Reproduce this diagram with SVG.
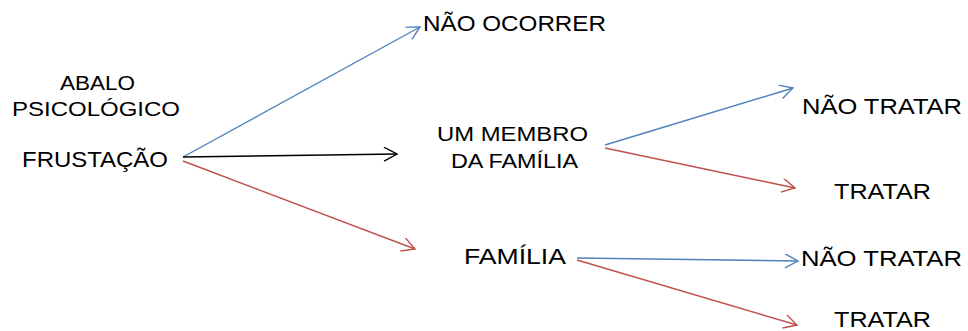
<svg xmlns="http://www.w3.org/2000/svg" width="968" height="331" viewBox="0 0 968 331">
<style>
.t{font-family:"Liberation Sans",Arial,sans-serif;font-size:22.5px;fill:#000}
.s{font-family:"Liberation Sans",Arial,sans-serif;font-size:19.5px;fill:#000}
.c{fill:none;stroke-width:1.4}
</style>
<defs>
<marker id="ab" markerUnits="userSpaceOnUse" markerWidth="20" markerHeight="20" refX="14" refY="7" orient="auto"><path d="M1,0 L14,7 L1,14" fill="none" stroke="#4f81bd" stroke-width="1.4"/></marker>
<marker id="ar" markerUnits="userSpaceOnUse" markerWidth="20" markerHeight="20" refX="14" refY="7" orient="auto"><path d="M1,0 L14,7 L1,14" fill="none" stroke="#c0504d" stroke-width="1.4"/></marker>
<marker id="ak" markerUnits="userSpaceOnUse" markerWidth="20" markerHeight="20" refX="14" refY="7" orient="auto"><path d="M1,0 L14,7 L1,14" fill="none" stroke="#000" stroke-width="1.4"/></marker>
</defs>
<rect width="968" height="331" fill="#fff"/>
<g id="connectors">
<line class="c" x1="183" y1="157" x2="420" y2="27" stroke="#4f81bd" marker-end="url(#ab)"/>
<line class="c" x1="183" y1="157" x2="397" y2="154" stroke="#000" marker-end="url(#ak)"/>
<line class="c" x1="183" y1="161" x2="415" y2="249" stroke="#c0504d" marker-end="url(#ar)"/>
<line class="c" x1="605" y1="145" x2="793" y2="88" stroke="#4f81bd" marker-end="url(#ab)"/>
<line class="c" x1="605" y1="148" x2="795" y2="188" stroke="#c0504d" marker-end="url(#ar)"/>
<line class="c" x1="577" y1="258" x2="798" y2="261" stroke="#4f81bd" marker-end="url(#ab)"/>
<line class="c" x1="577" y1="260" x2="797" y2="325" stroke="#c0504d" marker-end="url(#ar)"/>
</g>
<g id="abalo"><text class="s" x="60" y="90" textLength="75" lengthAdjust="spacingAndGlyphs">ABALO</text><text class="s" x="12" y="116" textLength="168" lengthAdjust="spacingAndGlyphs">PSICOLÓGICO</text></g>
<g id="frustacao"><text class="t" x="22" y="167" textLength="146" lengthAdjust="spacingAndGlyphs">FRUSTAÇÃO</text></g>
<g id="nao-ocorrer"><text class="t" x="423" y="31" textLength="183" lengthAdjust="spacingAndGlyphs">NÃO OCORRER</text></g>
<g id="um-membro"><text class="s" x="437" y="141" textLength="151" lengthAdjust="spacingAndGlyphs">UM MEMBRO</text><text class="s" x="451" y="168" textLength="127" lengthAdjust="spacingAndGlyphs">DA FAMÍLIA</text></g>
<g id="familia"><text class="t" x="464" y="264" textLength="102" lengthAdjust="spacingAndGlyphs">FAMÍLIA</text></g>
<g id="nao-tratar-1"><text class="t" x="802" y="114" textLength="160" lengthAdjust="spacingAndGlyphs">NÃO TRATAR</text></g>
<g id="tratar-1"><text class="t" x="834" y="199" textLength="97" lengthAdjust="spacingAndGlyphs">TRATAR</text></g>
<g id="nao-tratar-2"><text class="t" x="801" y="266" textLength="161" lengthAdjust="spacingAndGlyphs">NÃO TRATAR</text></g>
<g id="tratar-2"><text class="t" x="834" y="327" textLength="97" lengthAdjust="spacingAndGlyphs">TRATAR</text></g>
</svg>
